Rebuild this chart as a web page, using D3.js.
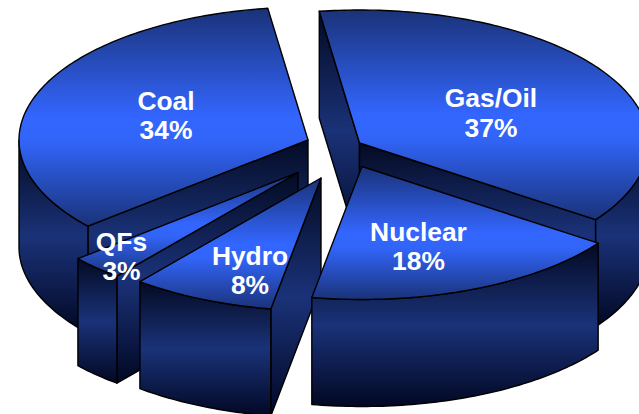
<!DOCTYPE html>
<html><head><meta charset="utf-8">
<script src="https://cdn.jsdelivr.net/npm/d3@7/dist/d3.min.js"></script>
<style>html,body{margin:0;padding:0;background:#fff}svg{display:block}</style>
</head><body><svg id="c" width="639" height="414"></svg>
<script>
const categories = ["Gas/Oil","Nuclear","Hydro","QFs","Coal"];
const values = [37,18,8,3,34];

// layout
const W=639,H=414,RX=289,RY=133,DEPTH=107,START=-8;
const apex={"Gas/Oil":[359.5,143],"Nuclear":[362,166.5],"Hydro":[321,178],"QFs":[298,172.5],"Coal":[308,140]};
const drawOrder=["Coal","Gas/Oil","QFs","Hydro","Nuclear"];
const labelPos={"Coal":[166,110,139],"Gas/Oil":[491,107,137],"Nuclear":[418.5,240.5,270],"Hydro":[250,265,294],"QFs":[121.5,250.5,280]};

const svg=d3.select("#c");
const defs=svg.append("defs");
function grad(id,stops){
  const g=defs.append("linearGradient").attr("id",id).attr("x1",0).attr("y1",0).attr("x2",0).attr("y2",1);
  stops.forEach(s=>g.append("stop").attr("offset",s[0]).attr("stop-color",s[1]));
}
grad("top",[[0,"#1a3278"],[.5,"#3366ff"],[.62,"#3164f6"],[1,"#1a3278"]]);
grad("side",[[0,"#030a22"],[.5,"#1a3278"],[1,"#020824"]]);

const rad=d=>d*Math.PI/180;
const pie=d3.pie().sort(null).value((d,i)=>d.v).startAngle(rad(START)).endAngle(rad(START+360));
const arcs=pie(categories.map((c,i)=>({c,v:values[i]})));
const line=d3.line();
const pt=(o,a,dz=0)=>[o[0]+RX*Math.sin(a),o[1]-RY*Math.cos(a)+dz];
function arcPts(o,a0,a1,dz=0){
  const n=Math.max(2,Math.ceil(Math.abs(a1-a0)/rad(1)));
  return d3.range(n+1).map(i=>pt(o,a0+(a1-a0)*i/n,dz));
}
const g=svg.append("g").attr("stroke","#000").attr("stroke-width",1.4).attr("stroke-linejoin","round");
function face(pts,fill){g.append("path").attr("d",line(pts)+"Z").attr("fill",`url(#${fill})`);}

drawOrder.forEach(name=>{
  const s=arcs.find(d=>d.data.c===name),o=apex[name];
  const wall=a=>{const p=pt(o,a);face([o,p,[p[0],p[1]+DEPTH],[o[0],o[1]+DEPTH]],"side");};
  if(Math.sin(s.startAngle)<0) wall(s.startAngle);
  if(Math.sin(s.endAngle)>0) wall(s.endAngle);
  // outer curved side: only the part on the front half of the ellipse
  const a0=Math.max(s.startAngle,rad(90)),a1=Math.min(s.endAngle,rad(270));
  if(a1>a0) face(arcPts(o,a0,a1).concat(arcPts(o,a1,a0,DEPTH)),"side");
  face([o].concat(arcPts(o,s.startAngle,s.endAngle)),"top");
});

const t=svg.append("g").attr("font-family","'Liberation Sans',Arial,sans-serif").attr("font-weight","bold")
  .attr("font-size",26.4).attr("fill","#fff").attr("text-anchor","middle");
arcs.forEach(s=>{
  const p=labelPos[s.data.c];
  t.append("text").attr("x",p[0]).attr("y",p[1]).text(s.data.c);
  t.append("text").attr("x",p[0]).attr("y",p[2]).text(s.data.v+"%");
});
</script></body></html>
